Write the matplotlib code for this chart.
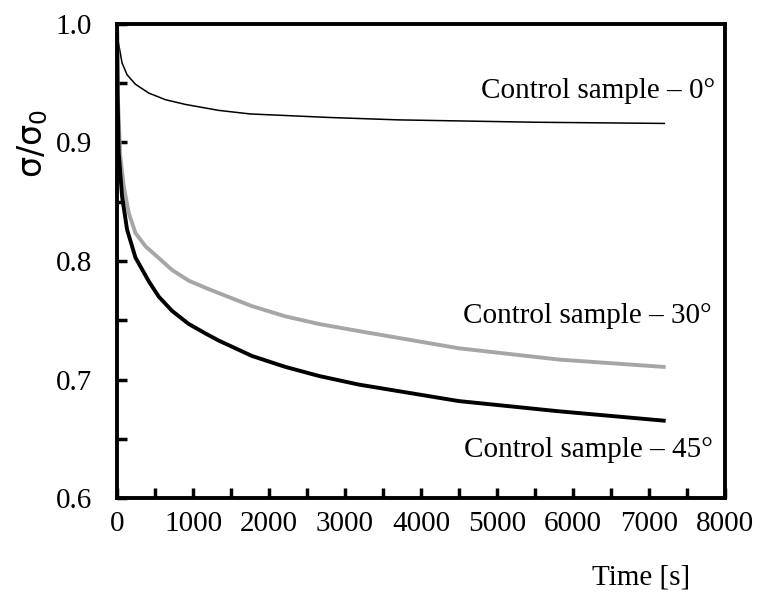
import matplotlib
matplotlib.use('Agg')
import matplotlib.pyplot as plt
from matplotlib.ticker import MultipleLocator, FormatStrFormatter

plt.rcParams['font.family'] = ['Liberation Serif', 'DejaVu Serif']

# ---- data ----
t_0 = [0, 35, 66, 132, 242, 417, 637, 900, 1075, 1338, 1750, 2800, 3700, 5500, 7200]
s_0 = [0.990, 0.978, 0.967, 0.957, 0.949, 0.9416, 0.936, 0.932, 0.930, 0.927,
       0.924, 0.921, 0.919, 0.917, 0.916]

t_30 = [0, 10, 40, 88, 154, 242, 374, 549, 724, 943, 1163, 1338, 1776, 2215,
        2654, 3180, 4496, 5812, 7193]
s_30 = [1.0, 0.94, 0.89, 0.863, 0.8405, 0.8237, 0.8125, 0.8025, 0.7925, 0.7835,
        0.7775, 0.773, 0.762, 0.7534, 0.747, 0.741, 0.7265, 0.717, 0.7108]

t_45 = [0, 8, 22, 66, 132, 242, 417, 549, 724, 943, 1163, 1338, 1776, 2215,
        2654, 3180, 4496, 5812, 7193]
s_45 = [1.0, 0.94, 0.891, 0.8545, 0.8265, 0.803, 0.783, 0.770, 0.758, 0.747,
        0.739, 0.733, 0.720, 0.7108, 0.7032, 0.6959, 0.682, 0.6734, 0.6655]

labels = ['Control sample \u2013 0\u00b0', 'Control sample \u2013 30\u00b0',
          'Control sample \u2013 45\u00b0']

fig = plt.figure(figsize=(7.6, 5.94), dpi=100)
ax = fig.add_axes([0.154, 0.161, 0.800, 0.799])

ax.plot(t_0, s_0, color='black', linewidth=1.1)
ax.plot(t_30, s_30, color='#a6a6a6', linewidth=2.8)
ax.plot(t_45, s_45, color='black', linewidth=2.8)

ax.set_xlim(0, 8000)
ax.set_ylim(0.6, 1.0)
ax.xaxis.set_major_locator(MultipleLocator(1000))
ax.xaxis.set_minor_locator(MultipleLocator(500))
ax.yaxis.set_major_locator(MultipleLocator(0.1))
ax.yaxis.set_minor_locator(MultipleLocator(0.05))
ax.yaxis.set_major_formatter(FormatStrFormatter('%.1f'))
ax.tick_params(which='both', direction='in', width=2.5, length=7, labelsize=21)
ax.tick_params(axis='x', pad=9)
ax.tick_params(axis='y', pad=18)
for sp in ax.spines.values():
    sp.set_linewidth(2.8)

ax.text(7870, 0.9436, labels[0], ha='right', va='center', fontsize=21)
ax.text(7830, 0.754, labels[1], ha='right', va='center', fontsize=21)
ax.text(7840, 0.641, labels[2], ha='right', va='center', fontsize=21)

fig.text(0.908, 0.027, 'Time [s]', ha='right', va='center', fontsize=21)
fig.text(0.043, 0.759, r'$\mathregular{\sigma/\sigma_0}$', rotation=90, ha='center', va='center',
         fontsize=24, family='DejaVu Sans')

fig.savefig('out.png', dpi=100)
